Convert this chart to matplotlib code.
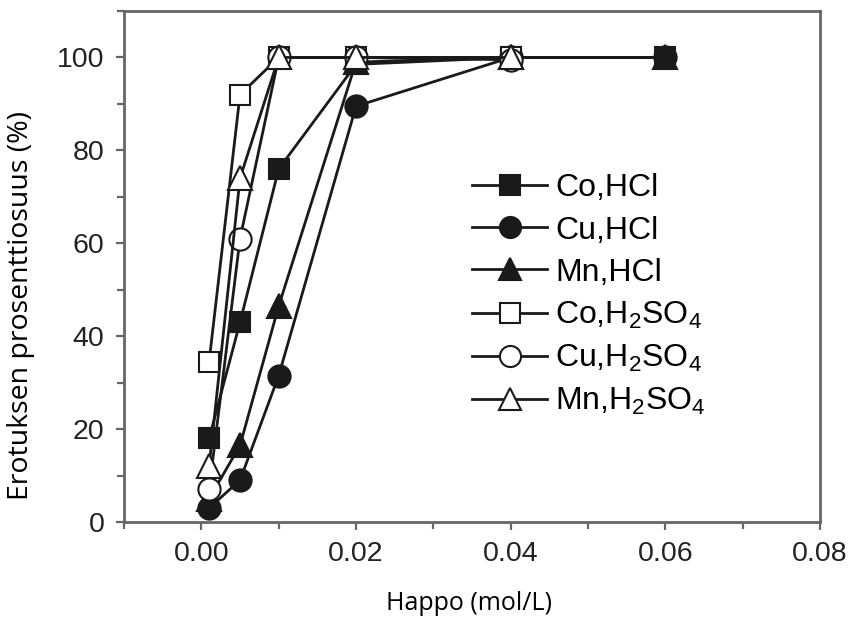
import matplotlib.pyplot as plt
from matplotlib.ticker import MultipleLocator

# acid concentration (mol/L)
x_hcl = [0.001, 0.005, 0.01, 0.02, 0.04, 0.06]
x_h2so4 = [0.001, 0.005, 0.01, 0.02, 0.04]

# separation percentage (%)
co_hcl = [18, 43, 76, 98.5, 100, 100]
cu_hcl = [3, 9, 31.5, 89.5, 100, 100]
mn_hcl = [5, 16.5, 46.5, 99, 100, 100]
co_h2so4 = [34.5, 92, 100, 100, 100]
cu_h2so4 = [7, 61, 100, 100, 99.5]
mn_h2so4 = [12, 74, 100, 100, 100]

labels = ['Co,HCl', 'Cu,HCl', 'Mn,HCl',
          'Co,H$_2$SO$_4$', 'Cu,H$_2$SO$_4$', 'Mn,H$_2$SO$_4$']

plt.rcParams['font.family'] = ['Liberation Sans', 'DejaVu Sans']
plt.rcParams['mathtext.default'] = 'regular'

fig = plt.figure(figsize=(8.56, 6.21), dpi=100)
ax = fig.add_axes([0.1449, 0.1594, 0.958 - 0.1449, 0.9823 - 0.1594])

lw = 2.0
mew = 1.5
kw = dict(color='#1a1a1a', lw=lw, mec='#1a1a1a', mew=mew, clip_on=False)

h_cu, = ax.plot(x_hcl, cu_hcl, marker='o', ms=16, mfc='#1a1a1a', **kw)
h_mn, = ax.plot(x_hcl, mn_hcl, marker='^', ms=17, mfc='#1a1a1a', **kw)
h_co, = ax.plot(x_hcl, co_hcl, marker='s', ms=15, mfc='#1a1a1a', **kw)
h_co2, = ax.plot(x_h2so4, co_h2so4, marker='s', ms=15, mfc='white', **kw)
h_cu2, = ax.plot(x_h2so4, cu_h2so4, marker='o', ms=16, mfc='white', **kw)
h_mn2, = ax.plot(x_h2so4, mn_h2so4, marker='^', ms=17, mfc='white', **kw)

ax.set_xlim(-0.01, 0.08)
ax.set_ylim(0, 110)
ax.set_xticks([0.0, 0.02, 0.04, 0.06, 0.08])
ax.set_xticklabels(['0.00', '0.02', '0.04', '0.06', '0.08'])
ax.set_yticks([0, 20, 40, 60, 80, 100])
ax.xaxis.set_minor_locator(MultipleLocator(0.01))
ax.yaxis.set_minor_locator(MultipleLocator(10))

for s in ax.spines.values():
    s.set_color('#666666')
    s.set_linewidth(2.0)
ax.tick_params(which='both', direction='out', color='#666666', width=1.6,
               labelsize=20.5, labelcolor='#222222')
ax.tick_params(which='major', length=6, pad=8)
ax.tick_params(which='minor', length=5)

ax.set_xlabel('Happo (mol/L)', fontsize=18, family=['Open Sans', 'DejaVu Sans'])
ax.set_ylabel('Erotuksen prosenttiosuus (%)', fontsize=20.5,
              family=['Open Sans', 'DejaVu Sans'])
ax.xaxis.set_label_coords(0.496, -0.135)
ax.yaxis.set_label_coords(-0.128, 0.423)

handles = [h_co, h_cu, h_mn, h_co2, h_cu2, h_mn2]
ax.legend(handles, labels, loc='upper left', bbox_to_anchor=(0.468, 0.726),
          frameon=False, fontsize=23, handlelength=2.35, handletextpad=0.25,
          labelspacing=0.38, borderpad=0.2, markerscale=0.95)

fig.savefig('out.png', dpi=100)
